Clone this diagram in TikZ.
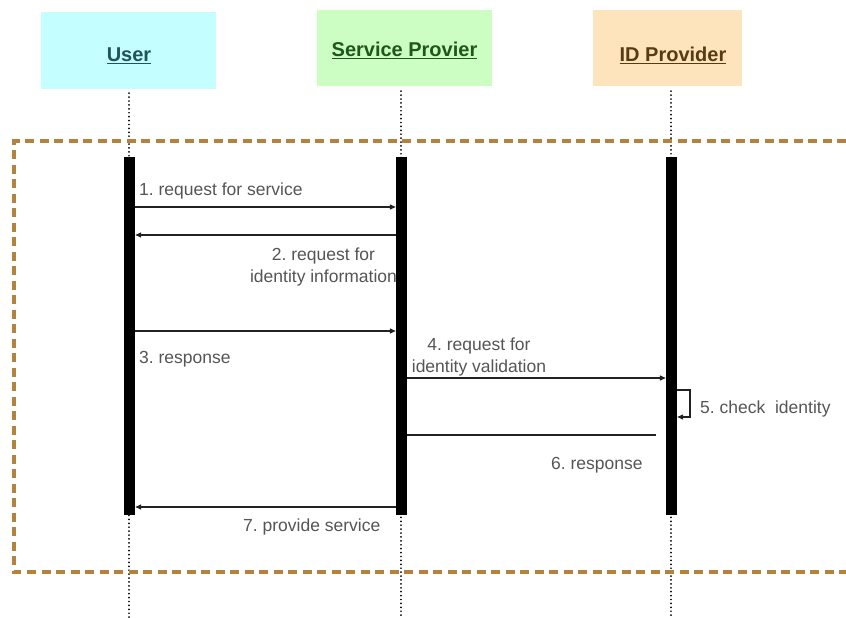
\documentclass[tikz,border=0pt]{standalone}
\usepackage{fontspec}
\setmainfont{Liberation Sans}
\frenchspacing
\usetikzlibrary{arrows.meta}
\definecolor{usrfill}{HTML}{C4FEFE}
\definecolor{spfill}{HTML}{CCFEC4}
\definecolor{idpfill}{HTML}{FEE4BC}
\definecolor{usrtext}{HTML}{1D5559}
\definecolor{sptext}{HTML}{1F561C}
\definecolor{idptext}{HTML}{573B12}
\definecolor{framebrown}{HTML}{B5813F}
\definecolor{labelgrey}{HTML}{555555}
\definecolor{msgline}{HTML}{222222}
\tikzset{
  headbox/.style={draw=none, inner sep=0pt},
  header/.style={inner sep=0pt, font=\fontsize{20}{24}\selectfont\bfseries},
  actbar/.style={fill=black, draw=none, inner sep=0pt, minimum width=11pt, minimum height=358pt},
  lifeline/.style={line width=1.9pt, dash pattern=on 0.01pt off 3.9pt, line cap=round, black},
  msg/.style={line width=1.3pt, msgline, -{Triangle[length=6pt,width=5pt]}},
  msgplain/.style={line width=1.3pt, msgline},
  msglabel/.style={text=labelgrey, inner sep=0pt, font=\fontsize{17.5}{22}\selectfont},
  frameline/.style={framebrown, line width=3.2pt, dash pattern=on 9pt off 5.5pt}
}
\begin{document}
\begin{tikzpicture}[x=1pt, y=-1pt]
\useasboundingbox (0,0) rectangle (846,618);

% participant boxes
\node[headbox, fill=usrfill, minimum width=175pt, minimum height=77pt] (usr) at (128.5,50.5) {};
\node[headbox, fill=spfill, minimum width=175pt, minimum height=76pt] (sp) at (404.5,48) {};
\node[headbox, fill=idpfill, minimum width=149pt, minimum height=76pt] (idp) at (667.5,48) {};

% participant names
\node[header, text=usrtext, anchor=base] (usrname) at (129,62) {\underline{User}};
\node[header, text=sptext, anchor=base] (spname) at (404.5,57) {\underline{Service Provier}};
\node[header, text=idptext, anchor=base] (idpname) at (673,62) {\underline{ID Provider}};

% lifeline ends
\coordinate (usrend) at (129,618);
\coordinate (spend) at (401,618);
\coordinate (idpend) at (671,618);

% dotted lifelines
\draw[lifeline] (usr.south -| usrend) ++(0,4) -- (usrend);
\draw[lifeline] (sp.south -| spend) ++(0,5) -- (spend);
\draw[lifeline] (idp.south -| idpend) ++(0,5) -- (idpend);

% dashed frame, open on the right
\coordinate (frtr) at (846,141);
\coordinate (frtl) at (14,141);
\coordinate (frbl) at (14,572);
\coordinate (frbr) at (846,572);
\draw[frameline] (frtr) -- (frtl) -- (frbl) -- (frbr);

% activation bars
\node[actbar] (ub) at (129.5,336) {};
\node[actbar] (sb) at (401.5,336) {};
\node[actbar] (ib) at (671.5,336) {};

% messages
\draw[msg] (ub.east |- 0,207) -- (sb.west |- 0,207);
\node[msglabel, anchor=base west] (m1) at (139,195) {1. request for service};

\draw[msg] (sb.west |- 0,235) -- (ub.east |- 0,235);
\node[msglabel, align=center] (m2) at (323.5,267) {2. request for\\identity information};

\draw[msg] (ub.east |- 0,331) -- (sb.west |- 0,331);
\node[msglabel, anchor=base west] (m3) at (139,363) {3. response};

\draw[msg] (sb.east |- 0,378) -- (ib.west |- 0,378);
\node[msglabel, align=center] (m4) at (479,357) {4. request for\\identity validation};

% self call on the ID provider
\coordinate (loopa) at (690,390);
\coordinate (loopb) at (690,417);
\draw[msg, line width=1.1pt] (ib.east |- loopa) -- (loopa) -- (loopb) -- (ib.east |- loopb);
\node[msglabel, anchor=base west] (m5) at (700,413) {5. check\ \ identity};

\coordinate (resp6) at (656,435);
\draw[msgplain] (sb.east |- resp6) -- (resp6);
\node[msglabel, anchor=base west] (m6) at (551,469) {6. response};

\draw[msg] (sb.west |- 0,507) -- (ub.east |- 0,507);
\node[msglabel, anchor=base west] (m7) at (243,531) {7. provide service};
\end{tikzpicture}
\end{document}
